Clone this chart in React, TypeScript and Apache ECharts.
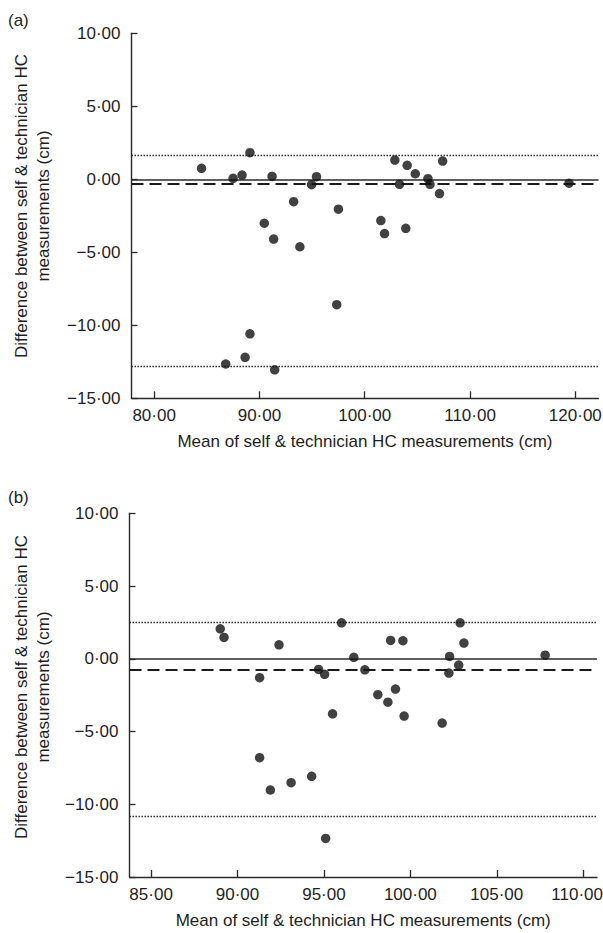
import React, { useEffect, useRef } from "react";
import * as echarts from "echarts";

// Panel (a): mean vs difference
const meanA = [84.5, 86.8, 87.5, 88.35, 88.64, 89.1, 89.1, 90.46, 91.2, 91.35, 91.45, 93.25, 93.84, 94.95, 95.42, 97.34, 97.5, 101.53, 101.88, 102.86, 103.3, 103.9, 104.03, 104.8, 106.0, 106.2, 107.1, 107.4, 119.4];
const diffA = [0.75, -12.65, 0.07, 0.29, -12.19, 1.82, -10.58, -3.01, 0.2, -4.09, -13.05, -1.53, -4.62, -0.37, 0.18, -8.59, -2.05, -2.83, -3.72, 1.32, -0.34, -3.36, 0.96, 0.38, 0.04, -0.34, -0.98, 1.25, -0.27];
const upperA = 1.62;
const biasA = -0.32;
const lowerA = -12.8;

// Panel (b)
const meanB = [89.0, 89.22, 91.28, 91.28, 91.9, 92.4, 93.1, 94.29, 94.69, 95.04, 95.1, 95.5, 96.02, 96.73, 97.37, 98.12, 98.7, 98.86, 99.14, 99.57, 99.64, 101.84, 102.23, 102.27, 102.8, 102.88, 103.1, 107.8];
const diffB = [2.06, 1.47, -1.3, -6.8, -9.02, 0.96, -8.52, -8.08, -0.73, -1.07, -12.35, -3.78, 2.47, 0.1, -0.76, -2.47, -2.98, 1.26, -2.08, 1.24, -3.94, -4.42, -0.98, 0.16, -0.43, 2.47, 1.08, 0.25];
const upperB = 2.52;
const biasB = -0.76;
const lowerB = -10.83;

// Tick labels
const xTicksA = [80, 90, 100, 110, 120];
const xTicksB = [85, 90, 95, 100, 105, 110];
const yMin = -15;
const yMax = 10;
const yStep = 5;

const xTitle = "Mean of self & technician HC measurements (cm)";
const yTitle = "Difference between self & technician HC\nmeasurements (cm)";

const FONT = "'Liberation Sans', Arial, Helvetica, sans-serif";
const TEXT = "#1e1e1e";
const AXIS = "#2a2a2a";

const fmt = (v: number) =>
  (v < 0 ? "\u2212" : "") + Math.abs(v).toFixed(2).replace(".", "\u00B7");

function makeX(grid: number, min: number, max: number, ticks: number[], edgeValue: number | null) {
  return {
    gridIndex: grid,
    type: "value",
    min,
    max,
    axisLine: { onZero: false, lineStyle: { color: AXIS, width: 1.4 } },
    axisTick: { show: true, inside: true, length: 7, customValues: ticks, lineStyle: { color: AXIS, width: 1.3 } },
    axisLabel: {
      customValues: ticks,
      formatter: (v: number) => (v === edgeValue ? `{r|${fmt(v)}}` : fmt(v)),
      rich: { r: { fontSize: 17, color: TEXT, fontFamily: FONT, padding: [0, 12, 0, 0] } },
      fontSize: 17,
      color: TEXT,
      fontFamily: FONT,
      margin: 9,
    },
    splitLine: { show: false },
    name: xTitle,
    nameLocation: "middle",
    nameGap: 35,
    nameTextStyle: { fontSize: 17, color: TEXT, fontFamily: FONT },
  };
}

function makeY(grid: number) {
  return {
    gridIndex: grid,
    type: "value",
    min: yMin,
    max: yMax,
    interval: yStep,
    axisLine: { show: true, onZero: false, lineStyle: { color: AXIS, width: 1.4 } },
    axisTick: { show: true, inside: true, length: 6, lineStyle: { color: AXIS, width: 1.3 } },
    axisLabel: { formatter: fmt, fontSize: 17, color: TEXT, fontFamily: FONT, margin: 11, showMinLabel: true, showMaxLabel: true },
    splitLine: { show: false },
  };
}

function makeSeries(idx: number, xs: number[], ys: number[], upper: number, bias: number, lower: number) {
  return {
    type: "scatter",
    xAxisIndex: idx,
    yAxisIndex: idx,
    symbol: "circle",
    symbolSize: 9.5,
    itemStyle: { color: "#111" },
    data: xs.map((m, i) => [m, ys[i]]),
    z: 3,
    markLine: {
      silent: true,
      symbol: ["none", "none"],
      label: { show: false },
      z: 2,
      data: [
        { yAxis: 0, lineStyle: { type: "solid", width: 1.6, color: AXIS } },
        { yAxis: bias, lineStyle: { type: [12, 6], width: 2, color: "#1a1a1a" } },
        { yAxis: upper, lineStyle: { type: [1.4, 1.6], width: 1.3, color: "#1a1a1a" } },
        { yAxis: lower, lineStyle: { type: [1.4, 1.6], width: 1.3, color: "#1a1a1a" } },
      ],
    },
  };
}

export default function App() {
  const ref = useRef<HTMLDivElement>(null);
  useEffect(() => {
    if (!ref.current) return;
    const chart = echarts.init(ref.current, undefined, { renderer: "svg" });
    chart.setOption({
      animation: false,
      backgroundColor: "#fff",
      textStyle: { fontFamily: FONT },
      grid: [
        { left: 131.5, top: 33.3, width: 467, height: 365, containLabel: false, outerBoundsMode: "none" },
        { left: 129.5, top: 513.3, width: 467.5, height: 363.7, containLabel: false, outerBoundsMode: "none" },
      ],
      xAxis: [makeX(0, 77.85, 122.2, xTicksA, null), makeX(1, 83.75, 110.8, xTicksB, 110)],
      yAxis: [makeY(0), makeY(1)],
      series: [
        makeSeries(0, meanA, diffA, upperA, biasA, lowerA),
        makeSeries(1, meanB, diffB, upperB, biasB, lowerB),
      ],
      graphic: [
        { type: "text", left: 8, top: 12, style: { text: "(a)", fontSize: 17, fill: TEXT, fontFamily: FONT } },
        { type: "text", left: 8, top: 489, style: { text: "(b)", fontSize: 17, fill: TEXT, fontFamily: FONT } },
        {
          type: "text", x: 32, y: 206, rotation: Math.PI / 2,
          style: { text: yTitle, fontSize: 17, lineHeight: 22, fill: TEXT, fontFamily: FONT, align: "center", verticalAlign: "middle" },
        },
        {
          type: "text", x: 32, y: 687, rotation: Math.PI / 2,
          style: { text: yTitle, fontSize: 17, lineHeight: 22, fill: TEXT, fontFamily: FONT, align: "center", verticalAlign: "middle" },
        },
      ],
    });
    return () => chart.dispose();
  }, []);
  return (
    <div
      ref={ref}
      style={{ position: "fixed", left: 0, top: 0, width: 603, height: 933, background: "#fff" }}
    />
  );
}
